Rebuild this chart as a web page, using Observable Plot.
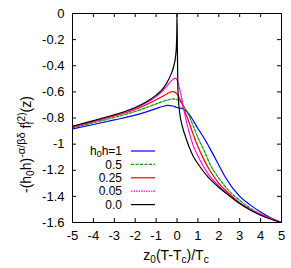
<!DOCTYPE html>
<html><head><meta charset="utf-8">
<script src="https://cdn.jsdelivr.net/npm/d3@7"></script>
<script src="https://cdn.jsdelivr.net/npm/@observablehq/plot@0.6"></script>
<style>body{margin:0;background:#fff} svg{display:block}</style>
</head><body><div id="chart"></div>
<script>
const xTicks = [-5,-4,-3,-2,-1,0,1,2,3,4,5];
const yTicks = [0,-0.2,-0.4,-0.6,-0.8,-1,-1.2,-1.4,-1.6];
const legendLabels = ["1","0.5","0.25","0.05","0.0"];

const h1_x = [-5,-4,-3,-2,-1.5,-1,-0.7,-0.45,-0.2,0,0.3,0.5,0.7,1,1.3,1.6,2,2.3,3,3.5,4,4.5,5];
const h1_y = [-0.883,-0.85,-0.815,-0.778,-0.755,-0.728,-0.712,-0.704,-0.708,-0.72,-0.73,-0.756,-0.8,-0.88,-0.955,-1.04,-1.16,-1.25,-1.40,-1.465,-1.52,-1.565,-1.6];

const h05_x = [-5,-4,-3,-2,-1.5,-1,-0.7,-0.4,-0.2,0,0.2,0.4,0.5,0.6,0.8,1,1.3,1.6,2,2.5,3,3.5,4,4.5,5];
const h05_y = [-0.874,-0.836,-0.796,-0.75,-0.722,-0.692,-0.675,-0.66,-0.654,-0.66,-0.68,-0.73,-0.756,-0.79,-0.87,-0.95,-1.05,-1.16,-1.26,-1.36,-1.43,-1.49,-1.535,-1.57,-1.6];

const h025_x = [-5,-4,-3,-2,-1.5,-1,-0.7,-0.45,-0.2,0,0.17,0.35,0.5,0.7,0.9,1.2,1.6,2,2.5,3,3.5,4,4.5,5];
const h025_y = [-0.868,-0.828,-0.785,-0.735,-0.70,-0.66,-0.635,-0.612,-0.598,-0.615,-0.665,-0.74,-0.80,-0.89,-0.98,-1.09,-1.21,-1.30,-1.38,-1.45,-1.50,-1.54,-1.57,-1.6];

const h005_x = [-5,-4,-3,-2,-1.5,-1,-0.7,-0.5,-0.3,-0.15,-0.07,0,0.1,0.25,0.4,0.6,0.8,1,1.5,2,2.5,3,3.5,4,4.5,5];
const h005_y = [-0.866,-0.823,-0.778,-0.725,-0.687,-0.635,-0.595,-0.56,-0.52,-0.50,-0.495,-0.51,-0.56,-0.67,-0.79,-0.92,-1.02,-1.09,-1.23,-1.32,-1.39,-1.45,-1.50,-1.54,-1.57,-1.6];

const h0_x = [-5,-4,-3,-2.5,-2,-1.5,-1,-0.7,-0.5,-0.3,-0.15,-0.07,-0.03,-0.01,0,0.02,0.04,0.07,0.12,0.25,0.4,0.6,0.8,1,1.5,2,2.5,3,3.5,4,4.5,5];
const h0_y = [-0.863,-0.82,-0.775,-0.75,-0.72,-0.68,-0.625,-0.58,-0.535,-0.47,-0.40,-0.33,-0.25,-0.15,0,-0.3,-0.55,-0.66,-0.75,-0.86,-0.94,-1.03,-1.10,-1.15,-1.255,-1.33,-1.395,-1.455,-1.505,-1.545,-1.575,-1.6];

const series = [
  {xs: h1_x, ys: h1_y, stroke: "#0000ff", dash: null},
  {xs: h05_x, ys: h05_y, stroke: "#00a000", dash: "3,1.5"},
  {xs: h025_x, ys: h025_y, stroke: "#ff0000", dash: null},
  {xs: h005_x, ys: h005_y, stroke: "#ff00ff", dash: "1.5,1"},
  {xs: h0_x, ys: h0_y, stroke: "#000000", dash: null}
];

const font = "'Liberation Sans', Arial, sans-serif";
const W = 291, H = 268, mL = 72, mR = 10, mT = 13, mB = 46;
const pw = W - mL - mR, ph = H - mT - mB, tk = 4;

const lineMarks = series.map(s => Plot.line(s.xs.map((x, i) => ({x, y: s.ys[i]})), {
  x: "x", y: "y", stroke: s.stroke, strokeWidth: 1.2, strokeDasharray: s.dash, curve: "monotone-x"
}));

const chart = Plot.plot({
  width: W, height: H,
  marginLeft: mL, marginRight: mR, marginTop: mT, marginBottom: mB,
  style: {fontFamily: font, fontSize: "13px", background: "#fff", color: "#000"},
  x: {domain: [-5, 5]},
  y: {domain: [-1.6, 0]},
  marks: [
    Plot.ruleX(xTicks, {x: d => d, insetTop: ph - tk, stroke: "#000"}),
    Plot.ruleX(xTicks, {x: d => d, insetBottom: ph - tk, stroke: "#000"}),
    Plot.ruleY(yTicks, {y: d => d, insetRight: pw - tk, stroke: "#000"}),
    Plot.ruleY(yTicks, {y: d => d, insetLeft: pw - tk, stroke: "#000"}),
    Plot.axisX({ticks: xTicks, tickSize: 0, tickPadding: 8, tickFormat: d => String(d), label: null, fontSize: 13}),
    Plot.axisY({ticks: yTicks, tickSize: 0, tickPadding: 8, tickFormat: d => String(d), label: null, fontSize: 13}),
    ...lineMarks,
    Plot.frame({stroke: "#000", strokeWidth: 1})
  ]
});
document.getElementById("chart").appendChild(chart);

const svg = d3.select(chart);
// y label (starts at the bottom, reads upward)
const yl = svg.append("text").attr("transform", "translate(31,193) rotate(-90)")
  .attr("text-anchor", "start").attr("font-family", font).attr("font-size", 14).attr("fill", "#000");
yl.append("tspan").text("-(h");
yl.append("tspan").attr("font-size", 10).attr("dy", 3).text("0");
yl.append("tspan").attr("dy", -3).text("h)");
yl.append("tspan").attr("font-size", 11).attr("dy", -6).text("-α/βδ");
yl.append("tspan").attr("dy", 6).text(" f");
yl.append("tspan").attr("font-size", 10).attr("dy", 3).text("f");
yl.append("tspan").attr("font-size", 10).attr("dx", -3).attr("dy", -9).text("(2)");
yl.append("tspan").attr("dy", 6).text("(z)");

// x label
const xl = svg.append("text").attr("x", 176).attr("y", 260)
  .attr("text-anchor", "middle").attr("font-family", font).attr("font-size", 14).attr("fill", "#000");
xl.append("tspan").text("z");
xl.append("tspan").attr("font-size", 10).attr("dy", 3).text("0");
xl.append("tspan").attr("dy", -3).text("(T-T");
xl.append("tspan").attr("font-size", 10).attr("dy", 3).text("c");
xl.append("tspan").attr("dy", -3).text(")/T");
xl.append("tspan").attr("font-size", 10).attr("dy", 3).text("c");

// legend
const rowY0 = 151, rowDy = 13.4;
series.forEach((s, i) => {
  const yy = rowY0 + i * rowDy;
  const t = svg.append("text").attr("x", 122).attr("y", yy + 4.2).attr("text-anchor", "end")
    .attr("font-family", font).attr("font-size", 12).attr("fill", "#000");
  if (i === 0) {
    t.append("tspan").text("h");
    t.append("tspan").attr("font-size", 9).attr("dy", 2).text("0");
    t.append("tspan").attr("dy", -2).text("h=" + legendLabels[i]);
  } else {
    t.text(legendLabels[i]);
  }
  svg.append("line").attr("x1", 131).attr("x2", 155).attr("y1", yy).attr("y2", yy)
    .attr("stroke", s.stroke).attr("stroke-width", 1.2).attr("stroke-dasharray", s.dash);
});
</script></body></html>
